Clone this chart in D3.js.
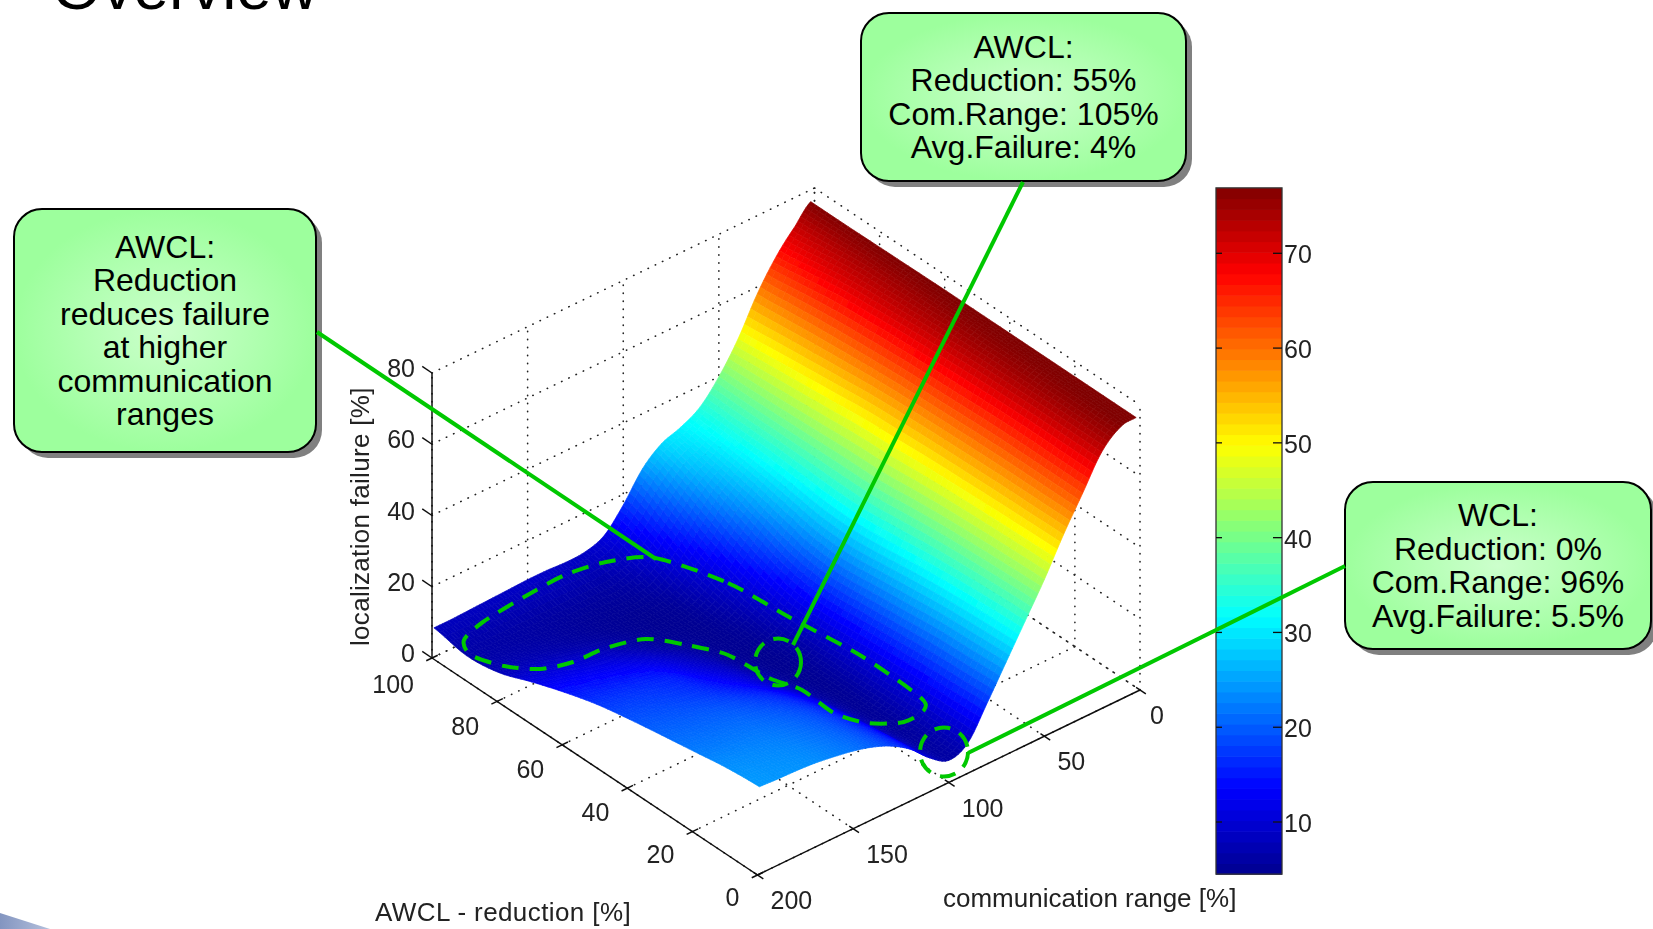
<!DOCTYPE html>
<html>
<head>
<meta charset="utf-8">
<title>Overview</title>
<script src="https://cdn.jsdelivr.net/npm/d3@7"></script>
<style>
  html, body { margin: 0; padding: 0; background: #fff; }
  svg { display: block; }
  text { font-family: "Liberation Sans", Arial, sans-serif; }
</style>
</head>
<body>
<div id="chart"></div>
<script>
// values
var commRange = [2, 10, 20, 30, 40, 50, 60, 70, 80, 90, 100, 110, 120, 130, 140, 150, 160, 170, 180, 190, 199];
var reduction = [0, 10, 20, 30, 40, 50, 60, 70, 80, 90, 100];
// failure[i][j]: reduction[i], commRange[j]
var failure = [
    [77, 76.5, 72, 63, 54, 44, 35, 26, 17, 8.5, 6.2, 9.5, 14.5, 18, 20.3, 21.8, 22.8, 23.6, 24, 24.2, 24.5],
    [77, 76.4, 72, 63, 53.8, 43.7, 34.6, 25.5, 16.5, 8.5, 5.8, 8.5, 13.5, 17, 19.5, 21, 22, 22.8, 23.2, 23.5, 23.7],
    [77, 76.2, 72, 63, 53.6, 43.3, 34, 25, 16, 8.3, 5.4, 7.5, 12, 15.8, 18.3, 19.8, 20.8, 21.5, 21.8, 22, 22.2],
    [77, 76, 71.8, 62.8, 53.3, 42.8, 33.2, 24, 15.3, 8, 5.1, 6.5, 10.5, 13.8, 16.2, 17.8, 19, 19.8, 20.2, 20.5, 20.7],
    [77, 75.8, 71.5, 62.4, 53, 42, 32, 23, 14.6, 7.7, 5, 5.5, 8.2, 11, 13.4, 15.2, 16.8, 17.8, 18.5, 18.9, 19.1],
    [77, 75.5, 71, 62, 52.5, 41, 31, 22, 14, 7.5, 5, 4.8, 6.5, 9, 11, 13, 15, 16, 16.6, 17, 17.2],
    [77, 75, 70.5, 61.5, 52, 40.8, 31, 22.5, 15, 9, 5.6, 4.8, 5.3, 7, 8.8, 10.6, 12, 13, 13.7, 14.2, 14.5],
    [76.9, 74.5, 69.8, 60.8, 51, 40.5, 32, 25, 18, 11.5, 7, 5, 4.8, 5.2, 6.3, 7.6, 8.8, 9.8, 10.5, 11, 11.3],
    [76.8, 74, 69, 60, 50, 40.2, 33, 27.5, 22, 15, 9.5, 6, 5, 4.9, 5.1, 5.6, 6.2, 6.8, 7.3, 7.6, 7.8],
    [76.7, 73, 67.5, 59, 49, 40, 33.5, 29.5, 26, 20, 13.5, 8.5, 6.5, 6, 6, 6, 6.1, 6.2, 6.3, 6.4, 6.5],
    [76.7, 72, 66, 58, 48, 40, 34, 31, 29, 24.5, 17, 11, 9, 8.7, 9, 9, 8.8, 8.6, 8.4, 8.2, 8.2]
];
var commTicks = [0, 50, 100, 150, 200];
var reductionTicks = [0, 20, 40, 60, 80, 100];
var failureTicks = [0, 20, 40, 60, 80];
var colorbarTicks = [10, 20, 30, 40, 50, 60, 70];
var colorMin = 4.5, colorMax = 76.9;

var callouts = [
    {id: "c0", x: 861, y: 13, w: 325, h: 168, lines: ["AWCL:", "Reduction: 55%", "Com.Range: 105%", "Avg.Failure: 4%"]},
    {id: "c1", x: 14, y: 209, w: 302, h: 243, lines: ["AWCL:", "Reduction", "reduces failure", "at higher", "communication", "ranges"]},
    {id: "c2", x: 1345, y: 482, w: 306, h: 167, lines: ["WCL:", "Reduction: 0%", "Com.Range: 96%", "Avg.Failure: 5.5%"]}
];

var width = 1653, height = 929;
var svg = d3.select("#chart").append("svg")
    .attr("width", width)
    .attr("height", height);

var defs = svg.append("defs");
defs.append("filter").attr("id", "soft")
    .append("feGaussianBlur").attr("stdDeviation", 0.45);
defs.append("filter").attr("id", "softer")
    .attr("x", "-2%").attr("y", "-2%").attr("width", "104%").attr("height", "104%")
    .append("feGaussianBlur").attr("stdDeviation", 0.6);
var wedgeGrad = defs.append("linearGradient").attr("id", "wedge")
    .attr("x1", 0).attr("x2", 1).attr("y1", 0).attr("y2", 0);
wedgeGrad.append("stop").attr("offset", "0%").attr("stop-color", "#8395c0");
wedgeGrad.append("stop").attr("offset", "100%").attr("stop-color", "#b4c0dc");
var boxGrad = defs.append("radialGradient").attr("id", "boxfill");
boxGrad.append("stop").attr("offset", "0%").attr("stop-color", "#ccffcc");
boxGrad.append("stop").attr("offset", "100%").attr("stop-color", "#9dff9d");

// slide bits: clipped title and the corner of the template
svg.append("text")
    .attr("x", 52)
    .attr("y", 9)
    .attr("font-size", 63.8)
    .attr("fill", "#000")
    .text("Overview");
svg.append("path")
    .attr("d", "M0,913L50,929L0,929Z")
    .attr("fill", "url(#wedge)");

// projection of the 3d box, orthographic like the original plot
var commX = d3.scaleLinear().domain([200, 0]).range([0, 382.5]);
var commY = d3.scaleLinear().domain([200, 0]).range([0, -185]);
var redX = d3.scaleLinear().domain([0, 100]).range([0, -325.5]);
var redY = d3.scaleLinear().domain([0, 100]).range([0, -217]);
var zY = d3.scaleLinear().domain([0, 80]).range([0, -285]);
var originX = 757.5, originY = 875;

function px(c, r) { return originX + commX(c) + redX(r); }
function py(c, r, z) { return originY + commY(c) + redY(r) + zY(z); }

// jet colours
var jet = d3.scaleLinear()
    .domain([0, 1 / 8, 3 / 8, 5 / 8, 7 / 8, 1].map(d => colorMin + d * (colorMax - colorMin)))
    .range(["#00008f", "#0000ff", "#00ffff", "#ffff00", "#ff0000", "#800000"])
    .clamp(true);

// dotted grid ------
var grid = svg.append("g")
    .attr("fill", "none")
    .attr("stroke", "#222")
    .attr("stroke-width", 1.6)
    .attr("stroke-linecap", "round")
    .attr("stroke-dasharray", "0.4,7.6");

function seg(g, a, b) {
    g.append("line")
        .attr("x1", px(a[0], a[1]))
        .attr("y1", py(a[0], a[1], a[2]))
        .attr("x2", px(b[0], b[1]))
        .attr("y2", py(b[0], b[1], b[2]));
}
commTicks.forEach(c => {
    seg(grid, [c, 0, 0], [c, 100, 0]);
    seg(grid, [c, 100, 0], [c, 100, 80]);
});
reductionTicks.forEach(r => {
    seg(grid, [200, r, 0], [0, r, 0]);
    seg(grid, [0, r, 0], [0, r, 80]);
});
failureTicks.forEach(z => {
    seg(grid, [200, 100, z], [0, 100, z]);
    seg(grid, [0, 100, z], [0, 0, z]);
});

// axes ------
var axes = svg.append("g")
    .attr("filter", "url(#soft)");
var axisLines = axes.append("g")
    .attr("stroke", "#111")
    .attr("stroke-width", 1.5)
    .attr("fill", "none");
seg(axisLines, [200, 100, 0], [200, 0, 0]);
seg(axisLines, [200, 0, 0], [0, 0, 0]);
seg(axisLines, [200, 100, 0], [200, 100, 80]);
reductionTicks.forEach(r => {
    seg(axisLines, [197, r, 0], [203, r, 0]);
});
commTicks.forEach(c => {
    seg(axisLines, [c, 1.2, 0], [c, -1.8, 0]);
});
failureTicks.forEach(z => {
    seg(axisLines, [200, 100, z], [200, 103, z]);
});

var labelColor = "#222";
var tickFont = 25;
axes.selectAll(".tick-r").data(reductionTicks).join("text")
    .attr("class", "tick-r")
    .attr("x", d => px(200, d) - 18)
    .attr("y", d => py(200, d, 0) + 31 + d * 0.036)
    .attr("text-anchor", "end")
    .attr("font-size", tickFont)
    .attr("fill", labelColor)
    .text(d => d);
axes.selectAll(".tick-c").data(commTicks).join("text")
    .attr("class", "tick-c")
    .attr("x", d => px(d, 0) + (d == 0 ? 10 : 13))
    .attr("y", d => py(d, 0, 0) + 34)
    .attr("font-size", tickFont)
    .attr("fill", labelColor)
    .text(d => d);
axes.selectAll(".tick-z").data(failureTicks).join("text")
    .attr("class", "tick-z")
    .attr("x", px(200, 100) - 17)
    .attr("y", d => py(200, 100, d) + 4)
    .attr("text-anchor", "end")
    .attr("font-size", tickFont)
    .attr("fill", labelColor)
    .text(d => d);

axes.append("text")
    .attr("x", 375).attr("y", 921)
    .attr("font-size", 26)
    .attr("letter-spacing", 0.4)
    .attr("fill", labelColor)
    .text("AWCL - reduction [%]");
axes.append("text")
    .attr("x", 943).attr("y", 907)
    .attr("font-size", 26)
    .attr("fill", labelColor)
    .text("communication range [%]");
axes.append("text")
    .attr("transform", "translate(369,646) rotate(-90)")
    .attr("font-size", 26)
    .attr("letter-spacing", 0.3)
    .attr("fill", labelColor)
    .text("localization failure [%]");

// surface, back to front; each cell is shaded in small facets
var stepsC = 6, stepsR = 6;
var facets = [];
function lerp(a, b, t) { return a + (b - a) * t; }
function cubic(p0, p1, p2, p3, t) {
    return p1 + 0.5 * t * (p2 - p0 + t * (2 * p0 - 5 * p1 + 4 * p2 - p3 + t * (3 * (p1 - p2) + p3 - p0)));
}
// smooth shading across the table, the way "shading interp" hides the mesh
function zAt(i, j, t, s) {
    const rowAt = k => {
        const row = failure[Math.max(0, Math.min(reduction.length - 1, k))];
        const at = n => row[Math.max(0, Math.min(commRange.length - 1, n))];
        return cubic(at(j - 1), at(j), at(j + 1), at(j + 2), s);
    };
    return cubic(rowAt(i - 1), rowAt(i), rowAt(i + 1), rowAt(i + 2), t);
}
for (let j = 0; j < commRange.length - 1; j++) {
    for (let i = reduction.length - 2; i >= 0; i--) {
        for (let a = 0; a < stepsC; a++) {
            for (let b = stepsR - 1; b >= 0; b--) {
                const s0 = a / stepsC, s1 = (a + 1) / stepsC, t0 = b / stepsR, t1 = (b + 1) / stepsR;
                const pts = [[s0, t0], [s1, t0], [s1, t1], [s0, t1]].map(p => {
                    const c = lerp(commRange[j], commRange[j + 1], p[0]);
                    const r = lerp(reduction[i], reduction[i + 1], p[1]);
                    return [px(c, r), py(c, r, zAt(i, j, p[1], p[0]))];
                });
                facets.push({pts: pts, z: zAt(i, j, (t0 + t1) / 2, (s0 + s1) / 2)});
            }
        }
    }
}
svg.append("g")
    .attr("filter", "url(#softer)")
    .selectAll("polygon").data(facets).join("polygon")
    .attr("points", d => d.pts.map(p => p.join(",")).join(" "))
    .attr("fill", d => jet(d.z))
    .attr("stroke", d => jet(d.z))
    .attr("stroke-width", 0.7)
    .attr("stroke-linejoin", "round");

// colorbar ------
var barX = 1216, barW = 66;
var barY = d3.scaleLinear().domain([10, 70]).range([822, 253.3]);
var bands = d3.range(64);
var bandH = (colorMax - colorMin) / 64;
var bar = svg.append("g");
bar.selectAll("rect").data(bands).join("rect")
    .attr("x", barX)
    .attr("y", d => barY(colorMin + (d + 1) * bandH))
    .attr("width", barW)
    .attr("height", d => barY(colorMin + d * bandH) - barY(colorMin + (d + 1) * bandH) + 0.6)
    .attr("fill", d => jet(colorMin + (d + 0.5) * bandH));
var barAxes = bar.append("g").attr("filter", "url(#soft)");
barAxes.append("rect")
    .attr("x", barX).attr("y", barY(colorMax))
    .attr("width", barW).attr("height", barY(colorMin) - barY(colorMax))
    .attr("fill", "none")
    .attr("stroke", "#333")
    .attr("stroke-width", 1.3);
colorbarTicks.forEach(t => {
    barAxes.append("line").attr("x1", barX).attr("x2", barX + 6)
        .attr("y1", barY(t)).attr("y2", barY(t)).attr("stroke", "#111").attr("stroke-width", 1.3);
    barAxes.append("line").attr("x1", barX + barW - 9).attr("x2", barX + barW)
        .attr("y1", barY(t)).attr("y2", barY(t)).attr("stroke", "#111").attr("stroke-width", 1.3);
    barAxes.append("text")
        .attr("x", barX + barW + 2)
        .attr("y", barY(t) + 10)
        .attr("font-size", tickFont)
        .attr("fill", labelColor)
        .text(t);
});

// annotations on top ------
var green = "#00c800";
var notes = svg.append("g").attr("fill", "none").attr("stroke", green).attr("stroke-width", 4);

var loop = [
    [655, 558], [728, 583], [789, 617], [863, 657], [920, 697], [924, 710], [904, 722], [867, 723],
    [834, 713], [802, 690], [769, 678], [728, 655], [687, 645], [646, 639], [606, 648], [573, 662],
    [540, 669], [504, 666], [471, 655], [464, 640], [483, 622], [524, 597], [565, 575], [606, 562]
];
notes.append("path")
    .attr("d", d3.line().curve(d3.curveCardinalClosed.tension(0.2))(loop))
    .attr("stroke-dasharray", "17,11");
notes.append("ellipse")
    .attr("cx", 778).attr("cy", 662).attr("rx", 23).attr("ry", 23.5)
    .attr("stroke-dasharray", "16,10");
notes.append("ellipse")
    .attr("cx", 944).attr("cy", 752).attr("rx", 24).attr("ry", 24.5)
    .attr("stroke-dasharray", "16,10");

var boxes = svg.selectAll(".callout").data(callouts).join("g").attr("class", "callout");
boxes.append("rect")
    .attr("x", d => d.x + 6).attr("y", d => d.y + 6)
    .attr("width", d => d.w).attr("height", d => d.h)
    .attr("rx", 28)
    .attr("fill", "#808080");
boxes.append("rect")
    .attr("x", d => d.x).attr("y", d => d.y)
    .attr("width", d => d.w).attr("height", d => d.h)
    .attr("rx", 28)
    .attr("fill", "url(#boxfill)")
    .attr("stroke", "#000")
    .attr("stroke-width", 2);
boxes.each(function (d) {
    const top = d.y + d.h / 2 - (d.lines.length - 1) * 33.5 / 2;
    d3.select(this).selectAll("text").data(d.lines).join("text")
        .attr("x", d.x + d.w / 2)
        .attr("y", (l, i) => top + i * 33.5 + 11)
        .attr("text-anchor", "middle")
        .attr("font-size", 32)
        .attr("fill", "#000")
        .text(l => l);
});

// leader lines sit over the box shadows
var leaders = svg.append("g").attr("stroke", green).attr("stroke-width", 4);
leaders.append("line").attr("x1", 317).attr("y1", 332).attr("x2", 656).attr("y2", 559);
leaders.append("line").attr("x1", 1023).attr("y1", 182).attr("x2", 793).attr("y2", 645);
leaders.append("line").attr("x1", 1345).attr("y1", 566).attr("x2", 968).attr("y2", 753);
</script>
</body>
</html>
